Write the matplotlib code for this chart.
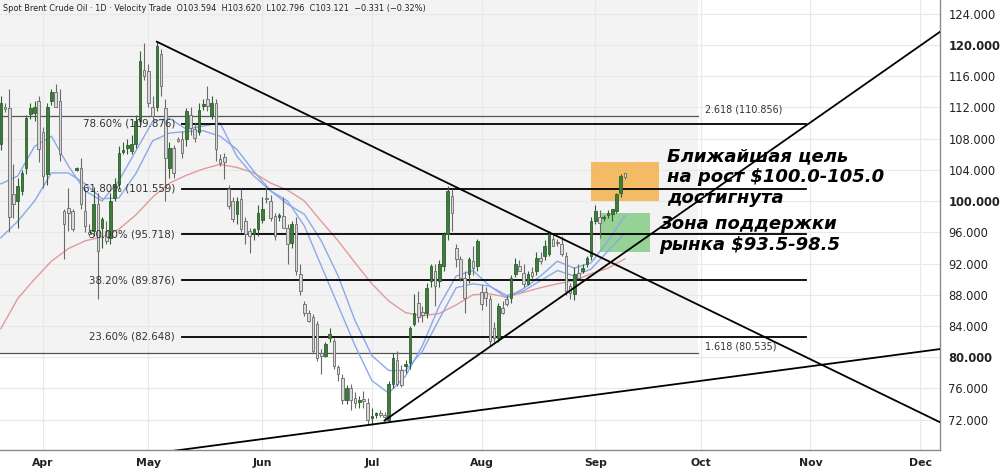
import numpy as np
import pandas as pd
import matplotlib
matplotlib.use("Agg")
import matplotlib.pyplot as plt
from matplotlib.patches import Rectangle

# ---------------- data ----------------
opens = [
    107.3, 112.0, 111.9, 100.9, 100.0, 101.3, 104.2, 111.2, 111.3, 112.8,
    108.9, 103.4, 112.8, 114.0, 112.8, 98.7, 99.1, 98.7, 104.0, 104.2,
    98.7, 96.0, 96.2, 99.6, 96.6, 96.2, 95.3, 100.4, 102.2, 106.3,
    106.8, 106.4, 107.3, 110.2, 116.8, 116.6, 112.1, 112.1, 118.8, 111.9,
    104.2, 106.8, 107.9, 108.0, 108.0, 111.0, 109.2, 108.9, 112.2, 113.0,
    110.9, 112.5, 105.4, 105.7, 101.5, 100.0, 98.3, 100.2, 97.4, 96.2,
    95.8, 96.4, 97.6, 100.4, 100.0, 98.1, 98.0, 98.1, 96.6, 94.6,
    97.1, 90.7, 86.8, 85.6, 85.1, 84.3, 80.5, 80.2, 82.4, 82.1,
    78.7, 77.4, 74.5, 76.0, 74.8, 74.3, 74.6, 74.2, 72.2, 72.6,
    72.8, 72.6, 71.9, 76.6, 79.6, 78.3, 78.9, 79.2, 84.3, 87.0,
    85.8, 85.7, 89.8, 91.1, 89.8, 91.7, 95.8, 100.6, 94.0, 92.6,
    90.2, 90.7, 92.3, 91.7, 88.3, 88.3, 87.5, 83.7, 82.5, 86.3,
    87.5, 87.6, 90.7, 91.7, 90.8, 89.4, 90.9, 91.0, 92.7, 93.0,
    93.2, 95.1, 94.8, 94.5, 93.0, 89.1, 88.1, 90.8, 91.1, 92.0,
    93.0, 97.4, 97.9, 97.8, 98.2, 98.3, 98.7, 101.0, 103.594]
highs = [
    113.5, 112.6, 114.3, 104.7, 102.9, 104.0, 111.0, 112.5, 112.8, 113.4,
    109.5, 112.5, 114.4, 115.0, 114.3, 99.0, 101.7, 99.0, 104.4, 105.5,
    101.5, 97.0, 101.8, 101.0, 98.0, 97.5, 101.0, 103.0, 107.0, 107.5,
    108.0, 108.5, 111.0, 119.2, 120.2, 117.5, 113.5, 120.4, 119.5, 113.0,
    107.5, 107.2, 108.2, 109.0, 111.9, 112.0, 110.0, 112.5, 113.0, 114.7,
    113.5, 113.0, 106.0, 106.2, 102.0, 100.5, 100.5, 101.5, 98.0, 96.5,
    96.5, 99.5, 100.5, 101.9, 100.8, 98.5, 98.5, 100.5, 97.0, 97.5,
    98.0, 92.0, 87.2, 86.0, 85.5, 84.6, 81.0, 82.0, 83.8, 82.5,
    79.0, 77.8, 76.5, 76.6, 75.5, 75.0, 75.7, 74.8, 73.5, 73.0,
    73.2, 73.0, 77.0, 80.5, 80.8, 79.0, 79.6, 84.0, 88.1, 88.5,
    86.5, 89.5, 92.0, 92.0, 92.5, 96.0, 101.9, 101.5, 94.5, 93.0,
    91.0, 92.8, 94.3, 95.2, 89.2, 89.0, 88.0, 84.5, 87.0, 87.2,
    88.0, 90.5, 92.7, 92.5, 92.0, 91.0, 91.5, 93.5, 93.5, 95.0,
    96.2, 95.8, 95.2, 95.5, 93.5, 89.5, 91.5, 92.0, 92.0, 93.0,
    98.0, 99.5, 98.8, 98.2, 98.8, 99.0, 101.0, 103.5, 103.620]
lows = [
    106.5, 111.4, 96.0, 97.8, 96.6, 100.8, 103.5, 110.5, 110.2, 105.0,
    101.7, 102.0, 112.3, 112.0, 105.1, 92.6, 96.2, 96.2, 103.8, 99.0,
    96.0, 95.5, 95.5, 87.5, 94.0, 94.5, 94.5, 100.0, 101.5, 106.0,
    106.0, 106.0, 106.8, 109.5, 115.5, 112.0, 110.5, 111.5, 113.5, 100.0,
    103.0, 103.0, 107.5, 105.5, 107.0, 108.5, 107.5, 108.5, 111.7, 111.5,
    110.5, 105.1, 104.5, 102.8, 99.0, 97.3, 97.0, 96.0, 94.5, 93.4,
    95.0, 95.5, 97.2, 99.8, 97.5, 95.0, 97.5, 96.5, 92.0, 94.0,
    90.5, 88.0, 85.3, 84.5, 80.5, 79.5, 77.9, 80.0, 82.0, 78.5,
    77.0, 74.0, 74.0, 73.2, 73.5, 73.5, 73.5, 71.5, 71.3, 72.2,
    72.4, 71.8, 71.7, 76.0, 76.3, 76.2, 78.0, 78.5, 84.0, 84.5,
    84.5, 85.0, 89.0, 86.6, 89.0, 91.0, 95.0, 96.2, 91.5, 89.8,
    85.6, 89.5, 90.5, 91.0, 86.0, 86.5, 81.5, 82.0, 82.0, 85.5,
    86.5, 87.0, 90.3, 91.0, 89.0, 89.2, 90.0, 90.5, 92.0, 92.5,
    93.0, 94.2, 94.3, 93.0, 88.0, 87.5, 87.3, 90.2, 90.8, 91.5,
    92.5, 97.0, 95.3, 97.5, 97.8, 97.5, 98.5, 100.5, 102.796]
closes = [
    112.5, 111.8, 98.0, 99.6, 101.9, 103.6, 110.6, 111.9, 112.0, 106.6,
    103.2, 112.1, 114.0, 112.1, 106.0, 97.1, 98.5, 96.4, 104.2, 99.6,
    96.8, 95.8, 99.6, 93.6, 97.7, 94.9, 100.0, 102.2, 106.1, 106.5,
    107.2, 107.3, 110.2, 117.9, 116.0, 112.5, 110.9, 119.8, 114.7, 105.5,
    106.8, 103.6, 107.7, 106.1, 111.5, 109.3, 108.1, 111.7, 112.4, 112.2,
    112.5, 106.6, 104.9, 105.0, 99.4, 97.7, 100.0, 96.4, 95.8, 95.5,
    96.4, 98.5, 99.0, 100.2, 97.8, 95.5, 98.2, 96.6, 94.5, 97.1,
    91.1, 88.5, 85.6, 84.7, 80.8, 79.9, 80.2, 81.7, 83.0, 78.9,
    77.9, 74.5, 76.0, 74.5, 74.1, 74.5, 74.4, 71.9, 72.5, 72.8,
    72.6, 72.4, 76.6, 79.9, 76.6, 76.4, 79.1, 83.8, 85.6, 85.1,
    85.4, 88.8, 91.7, 89.1, 92.0, 95.8, 101.3, 98.5, 92.6, 90.2,
    87.6, 92.6, 91.4, 94.9, 86.8, 87.6, 82.1, 82.5, 86.6, 85.6,
    86.8, 90.2, 92.0, 91.1, 89.4, 90.7, 90.4, 92.7, 92.3, 94.3,
    95.8, 94.3, 94.6, 93.2, 88.5, 88.2, 90.7, 90.2, 91.4, 92.7,
    97.4, 98.7, 97.2, 97.9, 98.5, 99.0, 100.9, 103.2, 103.121]

# moving averages, read every 4th bar
ma_step = 4
ma_red = [83.65, 87.5, 90.0, 92.3, 93.9, 94.9, 95.4, 96.4, 98.2, 100.5,
          102.3, 103.3, 104.1, 104.7, 104.3, 103.6, 102.3, 101.4, 100.0, 97.4,
          94.9, 92.1, 89.4, 87.2, 85.7, 85.3, 85.6, 86.7, 88.0, 88.1,
          87.7, 88.3, 88.9, 89.4, 89.8, 90.7, 91.4, 92.6]
ma_blue_slow = [95.3, 97.4, 100.0, 103.6, 103.6, 102.2, 100.3, 100.4, 103.5, 107.7,
                108.7, 108.9, 109.0, 108.3, 106.6, 103.8, 101.3, 99.6, 98.3, 94.9,
                90.4, 84.7, 80.2, 78.3, 78.3, 80.8, 84.9, 88.9, 89.4, 89.1,
                87.9, 88.5, 89.8, 91.1, 90.4, 91.3, 93.6, 95.9]
ma_blue_fast = [102.2, 103.2, 107.0, 108.3, 104.5, 101.3, 100.0, 102.6, 106.4, 110.2,
                110.6, 109.2, 109.6, 110.0, 105.7, 103.2, 101.3, 100.0, 96.8, 91.7,
                86.6, 81.5, 77.0, 75.4, 77.6, 81.5, 86.6, 90.4, 91.1, 89.1,
                87.6, 88.8, 90.4, 92.3, 91.4, 92.1, 94.9, 98.1]

fib_pcts = ["23.60%", "38.20%", "50.00%", "61.80%", "78.60%"]
fib_levels = [82.648, 89.876, 95.718, 101.559, 109.876]
fib_span = ("2022-05-10", "2022-10-31")
ext_names = ["1.618", "2.618"]
ext_levels = [80.535, 110.856]
ext_end = "2022-09-30"

# trend lines: (date, price) anchors
down_line = [("2022-05-03", 120.4), ("2022-07-22", 102.3)]
up_line = [("2022-07-05", 71.9), ("2022-08-26", 88.9)]
long_line = [("2022-07-05", 71.6), ("2022-11-01", 78.84)]

target_zone = (100.0, 105.0)
target_dates = ("2022-08-31", "2022-09-20")
support_zone = (93.5, 98.5)
support_dates = ("2022-09-02", "2022-09-18")

month_labels = ["Apr", "May", "Jun", "Jul", "Aug", "Sep", "Oct", "Nov", "Dec"]
yticks = [72, 76, 80, 84, 88, 92, 96, 100, 104, 108, 112, 116, 120, 124]
bold_ticks = [80, 100, 120]

title = ("Spot Brent Crude Oil \u00b7 1D \u00b7 Velocity Trade  O103.594  H103.620  "
         "L102.796  C103.121  \u22120.331 (\u22120.32%)")
note1 = "Ближайшая цель\nна рост $100.0-105.0\nдостигнута"
note2 = "Зона поддержки\nрынка $93.5-98.5"

# ---------------- bar calendar (Sun-Fri bars) ----------------
days = pd.date_range("2022-03-21", "2022-12-12", freq="D")
bars = [d for d in days if d.weekday() != 5 and d != pd.Timestamp("2022-09-05")]
pos = {d: i for i, d in enumerate(bars)}


def bi(s):
    return pos[pd.Timestamp(s)]


month_pos = []
for m in [4, 5, 6, 7, 8, 9, 10, 11, 12]:
    month_pos.append(min(i for d, i in pos.items() if d.month == m and d.year == 2022))

# ---------------- figure ----------------
W, H = 1000, 473
fig = plt.figure(figsize=(10, 4.73), dpi=100)
ax = fig.add_axes([0, 23 / H, 940 / W, 450 / H])

apr, dec = month_pos[0], month_pos[-1]
ppb = (920 - 43) / (dec - apr)
x0 = apr - 43 / ppb
x1 = apr + (940 - 43) / ppb
ax.set_xlim(x0, x1)
ax.set_ylim(68.12, 125.74)

ax.set_axisbelow(True)
ax.grid(True, color="#e8e8e8", lw=0.8)

# fib-extension shaded area
ext_x1 = bi(ext_end) + 0.4
ax.add_patch(Rectangle((x0, ext_levels[0]), ext_x1 - x0, 130 - ext_levels[0],
                       facecolor="#f3f3f3", edgecolor="none", zorder=0.2))
for name, lv in zip(ext_names, ext_levels):
    ax.plot([x0, ext_x1], [lv, lv], color="#555555", lw=0.9, zorder=3)
    ax.annotate(f"{name} ({lv:.3f})", xy=(ext_x1, lv), xytext=(5, 5),
                textcoords="offset points", ha="left", va="center",
                fontsize=6.9, color="#333333")

# fib retracement
fs, fe = bi(fib_span[0]), bi(fib_span[1])
for pct, lv in zip(fib_pcts, fib_levels):
    ax.plot([fs, fe], [lv, lv], color="black", lw=1.3, zorder=3.5)
    ax.annotate(f"{pct} ({lv:.3f})", xy=(fs, lv), xytext=(-5, 0),
                textcoords="offset points", ha="right", va="center",
                fontsize=7.4, color="#333333", zorder=6)

# zones
ax.add_patch(Rectangle((bi(target_dates[0]), target_zone[0]),
                       bi(target_dates[1]) - bi(target_dates[0]),
                       target_zone[1] - target_zone[0],
                       facecolor="#f5b24f", alpha=0.85, edgecolor="none", zorder=2))
ax.add_patch(Rectangle((bi(support_dates[0]), support_zone[0]),
                       bi(support_dates[1]) - bi(support_dates[0]),
                       support_zone[1] - support_zone[0],
                       facecolor="#86cc86", alpha=0.85, edgecolor="none", zorder=2))

# moving averages
ma_x = np.arange(len(ma_red)) * ma_step
ax.plot(ma_x, ma_red, color="#e39a9a", lw=1.0, zorder=3)
ax.plot(ma_x, ma_blue_slow, color="#8aa9e8", lw=1.0, zorder=3)
ax.plot(ma_x, ma_blue_fast, color="#8aa9e8", lw=1.0, zorder=3)

# candles
o = np.array(opens); h = np.array(highs); l = np.array(lows); c = np.array(closes)
x = np.arange(len(c))
up = c >= o
ax.vlines(x[up], l[up], h[up], color="#2f5f2f", lw=0.8, zorder=4)
ax.vlines(x[~up], l[~up], h[~up], color="#6a6a6a", lw=0.8, zorder=4)
bh = np.maximum(np.abs(c - o), 0.12)
bb = np.minimum(o, c)
ax.bar(x[up], bh[up], bottom=bb[up], width=0.62, color="#3f7d3f",
       edgecolor="#2f5f2f", lw=0.6, zorder=5)
ax.bar(x[~up], bh[~up], bottom=bb[~up], width=0.62, color="#dadada",
       edgecolor="#6a6a6a", lw=0.6, zorder=5)

# trend lines
def seg(anchors, extend_left=False):
    (d1, p1), (d2, p2) = anchors
    a, b = bi(d1), bi(d2)
    k = (p2 - p1) / (b - a)
    xs = x0 if extend_left else a
    return [xs, x1], [p1 + k * (xs - a), p1 + k * (x1 - a)]

for anc, el in [(down_line, False), (up_line, False), (long_line, True)]:
    xx, yy = seg(anc, el)
    ax.plot(xx, yy, color="black", lw=1.3, zorder=6)

# notes
ax.text(158.0, 106.9, note1, fontsize=13.0, fontweight="bold", style="italic",
        ha="left", va="top", color="black", zorder=7)
ax.text(156.1, 98.2, note2, fontsize=13.0, fontweight="bold", style="italic",
        ha="left", va="top", color="black", zorder=7)

# axes styling
ax.yaxis.tick_right()
ax.set_yticks(yticks)
ax.set_yticklabels([f"{v:.3f}" for v in yticks])
for t, v in zip(ax.get_yticklabels(), yticks):
    t.set_fontsize(8.3)
    t.set_color("#222222")
    if v in bold_ticks:
        t.set_fontweight("bold")
ax.set_xticks(month_pos)
ax.set_xticklabels(month_labels, fontsize=7.8, fontweight="bold", color="#222222")
ax.tick_params(axis="both", length=0)
ax.tick_params(axis="y", pad=6)
ax.tick_params(axis="x", pad=6)
for s in ["top", "left"]:
    ax.spines[s].set_visible(False)
for s in ["right", "bottom"]:
    ax.spines[s].set_color("#8a8a8a")
    ax.spines[s].set_linewidth(1.0)

fig.text(0.003, 0.992, title, fontsize=5.9, color="#222222", ha="left", va="top")

fig.savefig("out.png", dpi=100, facecolor="white")
